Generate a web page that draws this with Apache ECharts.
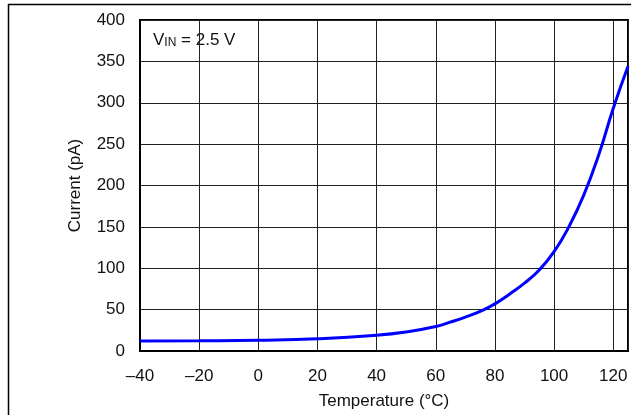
<!DOCTYPE html>
<html>
<head>
<meta charset="utf-8">
<script src="https://cdn.jsdelivr.net/npm/echarts@6/dist/echarts.min.js"></script>
<style>html,body{margin:0;padding:0;background:#fff}#c{width:631px;height:415px}</style>
</head>
<body>
<div id="c"></div>
<script>
const temperatures = [-40, -20, 0, 20, 40, 50, 60, 65, 70, 75, 80, 85, 90, 95, 100, 105, 110, 115, 120, 125];
const currentPA   = [12, 12.3, 13, 14.8, 19, 23, 29.5, 35, 41, 48, 57, 69, 82, 98, 120, 150, 188, 236, 293, 344];
const xTicks = [-40, -20, 0, 20, 40, 60, 80, 100, 120];
const yTicks = [0, 50, 100, 150, 200, 250, 300, 350, 400];

const font = 'Liberation Sans, Arial, sans-serif';
const fs = 17;
const chart = echarts.init(document.getElementById('c'), null, {renderer: 'canvas'});
const points = temperatures.map((t, i) => [t, currentPA[i]]);

chart.setOption({
  animation: false,
  backgroundColor: '#fff',
  grid: {left: 140, right: 3, top: 20, bottom: 63, show: true, borderColor: '#000', borderWidth: 2, containLabel: false},
  xAxis: {
    type: 'value', min: -40, max: 125, interval: 20,
    name: 'Temperature (°C)', nameLocation: 'middle', nameGap: 42,
    nameTextStyle: {fontFamily: font, fontSize: fs, color: '#111', verticalAlign: 'top'},
    axisLine: {show: true, onZero: false, lineStyle: {color: '#000', width: 2}},
    axisTick: {show: false},
    axisLabel: {fontFamily: font, fontSize: fs, color: '#111', margin: 17,
      showMaxLabel: false,
      formatter: v => xTicks.includes(v) ? String(v).replace('-', '\u2013') : ''},
    splitLine: {show: true, lineStyle: {color: '#222', width: 1}}
  },
  yAxis: {
    type: 'value', min: 0, max: 400, interval: 50,
    name: 'Current (pA)', nameLocation: 'middle', nameGap: 56,
    nameTextStyle: {fontFamily: font, fontSize: fs, color: '#111'},
    axisLine: {show: true, onZero: false, lineStyle: {color: '#000', width: 2}},
    axisTick: {show: false},
    axisLabel: {fontFamily: font, fontSize: fs, color: '#111', margin: 15,
      formatter: v => yTicks.includes(v) ? String(v) : ''},
    splitLine: {show: true, lineStyle: {color: '#222', width: 1}}
  },
  series: [{
    type: 'line', data: points, smooth: 0.5, symbol: 'none',
    lineStyle: {color: '#0000ff', width: 3}, clip: true
  }],
  graphic: [
    {type: 'line', shape: {x1: 8, y1: 4.5, x2: 631, y2: 4.5}, style: {stroke: '#000', lineWidth: 1.5}},
    {type: 'line', shape: {x1: 8.5, y1: 4, x2: 8.5, y2: 415}, style: {stroke: '#000', lineWidth: 1.5}},
    {type: 'rect', shape: {x: 146, y: 26, width: 108, height: 30}, style: {fill: '#fff'}},
    {type: 'text', left: 153, top: 32,
      style: {
        text: '{v|V}{s|IN}{v| = 2.5 V}',
        rich: {
          v: {fontFamily: font, fontSize: fs, fill: '#111', verticalAlign: 'bottom'},
          s: {fontFamily: font, fontSize: 12, fill: '#111', padding: [7, 0, 0, 0], verticalAlign: 'bottom'}
        }
      }}
  ]
});
</script>
</body>
</html>
